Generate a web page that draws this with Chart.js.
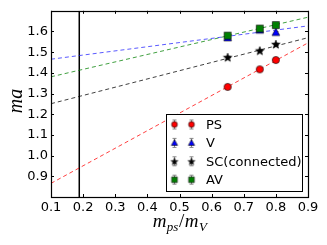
<!DOCTYPE html>
<html>
<head>
<meta charset="utf-8">
<script src="https://cdn.jsdelivr.net/npm/chart.js@4.4.1/dist/chart.umd.min.js"></script>
<style>
  html, body { margin: 0; padding: 0; background: #fff; }
  #wrap { width: 327px; height: 245px; }
</style>
</head>
<body>
<div id="wrap"><canvas id="chart" width="327" height="245"></canvas></div>
<script>
// ── Données ──────────────────────────────────────────────────────────────────
const xValues  = [0.65, 0.75, 0.80];
const psMass   = [1.332, 1.417, 1.462];
const vMass    = [1.569, 1.606, 1.595];
const scMass   = [1.476, 1.508, 1.539];
const avMass   = [1.580, 1.614, 1.631];
const psErr    = [0.004, 0.004, 0.004];
const vErr     = [0.004, 0.004, 0.004];
const scErr    = [0.004, 0.004, 0.004];
const avErr    = [0.004, 0.004, 0.004];

const fitX     = [0.1, 0.9];
const psFit    = [0.866, 1.545];
const vFit     = [1.466, 1.627];
const scFit    = [1.251, 1.570];
const avFit    = [1.381, 1.669];

const physicalX = 0.188;
const xTicks   = [0.1, 0.2, 0.3, 0.4, 0.5, 0.6, 0.7, 0.8, 0.9];
const yTicks   = [0.9, 1.0, 1.1, 1.2, 1.3, 1.4, 1.5, 1.6];
const seriesNames = ['PS', 'V', 'SC(connected)', 'AV'];

Chart.defaults.font.family = "'DejaVu Sans', sans-serif";
Chart.defaults.font.size = 13;
Chart.defaults.color = '#000';

// ── Marqueurs dessinés à la main (étoile pleine, etc.) ──────────────────────
function makeMarker(kind, fill, k = 1) {
  const c = document.createElement('canvas');
  c.width = 12; c.height = 12;
  const g = c.getContext('2d');
  const cx = 6, cy = 6;
  g.fillStyle = fill;
  g.strokeStyle = '#000';
  g.lineWidth = 0.6;
  g.beginPath();
  if (kind === 'circle') {
    g.arc(cx, cy, 3.6 * k, 0, Math.PI * 2);
  } else if (kind === 'square') {
    g.rect(cx - 3.5 * k, cy - 3.5 * k, 7 * k, 7 * k);
  } else if (kind === 'triangle') {
    g.moveTo(cx, cy - 4.2 * k);
    g.lineTo(cx + 3.9 * k, cy + 3 * k);
    g.lineTo(cx - 3.9 * k, cy + 3 * k);
    g.closePath();
  } else if (kind === 'star') {
    for (let i = 0; i < 10; i++) {
      const r = (i % 2 === 0 ? 4.5 : 1.9) * k;
      const a = -Math.PI / 2 + i * Math.PI / 5;
      const px = cx + r * Math.cos(a), py = cy + 0.5 + r * Math.sin(a);
      if (i === 0) g.moveTo(px, py); else g.lineTo(px, py);
    }
    g.closePath();
  }
  g.fill();
  g.stroke();
  return c;
}

const kinds  = ['circle', 'triangle', 'star', 'square'];
const fills  = ['#ff0000', '#0000ff', '#000000', '#008000'];
const markers = kinds.map((k, i) => makeMarker(k, fills[i]));
const legendMarkers = kinds.map((k, i) => makeMarker(k, fills[i], 0.8));

const pts = (xs, ys) => xs.map((x, i) => ({ x, y: ys[i] }));

function pointSet(label, ys, marker, order) {
  return {
    type: 'scatter', label, data: pts(xValues, ys), showLine: false,
    pointStyle: marker, pointRadius: 5, order,
  };
}
function fitSet(ys, color) {
  return {
    type: 'line', data: pts(fitX, ys), borderColor: color, borderWidth: 1,
    borderDash: [4, 3], pointRadius: 0, fill: false, order: 10,
  };
}

const errSets = [[psMass, psErr], [vMass, vErr], [scMass, scErr], [avMass, avErr]];

// ── Plugin : cadre, ticks intérieurs, barres d'erreur, légende, titres ──────
const decor = {
  id: 'decor',
  beforeDatasetsDraw(chart) {
    const { ctx, scales: { x, y } } = chart;
    ctx.save();
    ctx.strokeStyle = '#777';
    ctx.lineWidth = 1;
    errSets.forEach(([vals, errs]) => {
      xValues.forEach((xv, i) => {
        const px = Math.round(x.getPixelForValue(xv)) + 0.5;
        const y0 = y.getPixelForValue(vals[i] - errs[i]);
        const y1 = y.getPixelForValue(vals[i] + errs[i]);
        ctx.beginPath();
        ctx.moveTo(px, y0); ctx.lineTo(px, y1);
        ctx.moveTo(px - 2, y0); ctx.lineTo(px + 2, y0);
        ctx.moveTo(px - 2, y1); ctx.lineTo(px + 2, y1);
        ctx.stroke();
      });
    });
    ctx.restore();
  },
  afterDraw(chart) {
    const { ctx, chartArea: a, scales: { x, y } } = chart;
    ctx.save();
    // ticks intérieurs sur les quatre côtés
    ctx.strokeStyle = '#000';
    ctx.lineWidth = 1;
    ctx.beginPath();
    xTicks.forEach(v => {
      const px = Math.round(x.getPixelForValue(v)) + 0.5;
      ctx.moveTo(px, a.bottom); ctx.lineTo(px, a.bottom - 3);
      ctx.moveTo(px, a.top); ctx.lineTo(px, a.top + 3);
    });
    yTicks.forEach(v => {
      const py = Math.round(y.getPixelForValue(v)) + 0.5;
      ctx.moveTo(a.left, py); ctx.lineTo(a.left + 3, py);
      ctx.moveTo(a.right, py); ctx.lineTo(a.right - 3, py);
    });
    ctx.stroke();
    ctx.lineWidth = 1.2;
    ctx.strokeRect(Math.round(a.left) + 0.5, Math.round(a.top) + 0.5,
                   Math.round(a.right - a.left), Math.round(a.bottom - a.top));

    // légende
    const lx = 166.5, ly = 114.5, lw = 136, lh = 77;
    ctx.fillStyle = '#fff';
    ctx.fillRect(lx, ly, lw, lh);
    ctx.lineWidth = 1;
    ctx.strokeStyle = '#000';
    ctx.strokeRect(lx, ly, lw, lh);
    ctx.font = "13px 'DejaVu Sans', sans-serif";
    ctx.textBaseline = 'middle';
    ctx.textAlign = 'left';
    seriesNames.forEach((name, i) => {
      const ry = 124.5 + i * 18.4;
      [174.5, 191.5].forEach(mx => {
        ctx.strokeStyle = '#888';
        ctx.beginPath();
        ctx.moveTo(mx, ry - 4.5); ctx.lineTo(mx, ry + 4.5);
        ctx.moveTo(mx - 2, ry - 4.5); ctx.lineTo(mx + 2, ry - 4.5);
        ctx.moveTo(mx - 2, ry + 4.5); ctx.lineTo(mx + 2, ry + 4.5);
        ctx.stroke();
        ctx.drawImage(legendMarkers[i], mx - 6, ry - 6);
      });
      ctx.fillStyle = '#000';
      ctx.fillText(name, 206, ry + 1);
    });

    // titres des axes
    const big = "italic 19px 'Liberation Serif', serif";
    const small = "italic 13px 'Liberation Serif', serif";
    ctx.textBaseline = 'alphabetic';
    ctx.save();
    ctx.translate(22, 101);
    ctx.rotate(-Math.PI / 2);
    ctx.font = "italic 20px 'Liberation Serif', serif";
    ctx.textAlign = 'center';
    ctx.fillText('ma', 0, 0);
    ctx.restore();

    const parts = [
      ['m', big, 0], ['ps', small, 4], ['/', "19px 'Liberation Serif', serif", 0],
      ['m', big, 0], ['V', small, 4],
    ];
    let total = 0;
    parts.forEach(([t, f]) => { ctx.font = f; total += ctx.measureText(t).width + 0.5; });
    let cx = 180 - total / 2;
    ctx.textAlign = 'left';
    parts.forEach(([t, f, dy]) => {
      ctx.font = f;
      ctx.fillText(t, cx, 227 + dy);
      cx += ctx.measureText(t).width + 0.5;
    });
    ctx.restore();
  },
};

new Chart(document.getElementById('chart'), {
  type: 'scatter',
  data: {
    datasets: [
      pointSet(seriesNames[3], avMass, markers[3], 1),
      pointSet(seriesNames[1], vMass, markers[1], 2),
      pointSet(seriesNames[2], scMass, markers[2], 3),
      pointSet(seriesNames[0], psMass, markers[0], 4),
      fitSet(psFit, 'rgba(255, 0, 0, 0.75)'),
      fitSet(vFit, 'rgba(0, 0, 255, 0.65)'),
      fitSet(scFit, 'rgba(0, 0, 0, 0.75)'),
      fitSet(avFit, 'rgba(0, 128, 0, 0.75)'),
      {
        type: 'line', data: [{ x: physicalX, y: 0.8 }, { x: physicalX, y: 1.7 }],
        borderColor: '#000', borderWidth: 1.5, pointRadius: 0, order: 11,
      },
    ],
  },
  options: {
    responsive: false,
    animation: false,
    events: [],
    layout: { padding: { left: 0, right: 19, top: 7, bottom: 0 } },
    plugins: { legend: { display: false }, tooltip: { enabled: false } },
    scales: {
      x: {
        type: 'linear', min: 0.1, max: 0.9,
        afterBuildTicks: s => { s.ticks = xTicks.map(v => ({ value: v })); },
        afterFit: s => { s.height = 48; },
        grid: { display: false, drawTicks: false },
        border: { display: false },
        ticks: { padding: 3, maxRotation: 0, autoSkip: false, callback: v => v.toFixed(1) },
      },
      y: {
        type: 'linear', min: 0.8, max: 1.7,
        afterBuildTicks: s => { s.ticks = yTicks.map(v => ({ value: v })); },
        afterFit: s => { s.width = 51; },
        grid: { display: false, drawTicks: false },
        border: { display: false },
        ticks: { padding: 3, autoSkip: false, callback: v => v.toFixed(1) },
      },
    },
  },
  plugins: [decor],
});
</script>
</body>
</html>
